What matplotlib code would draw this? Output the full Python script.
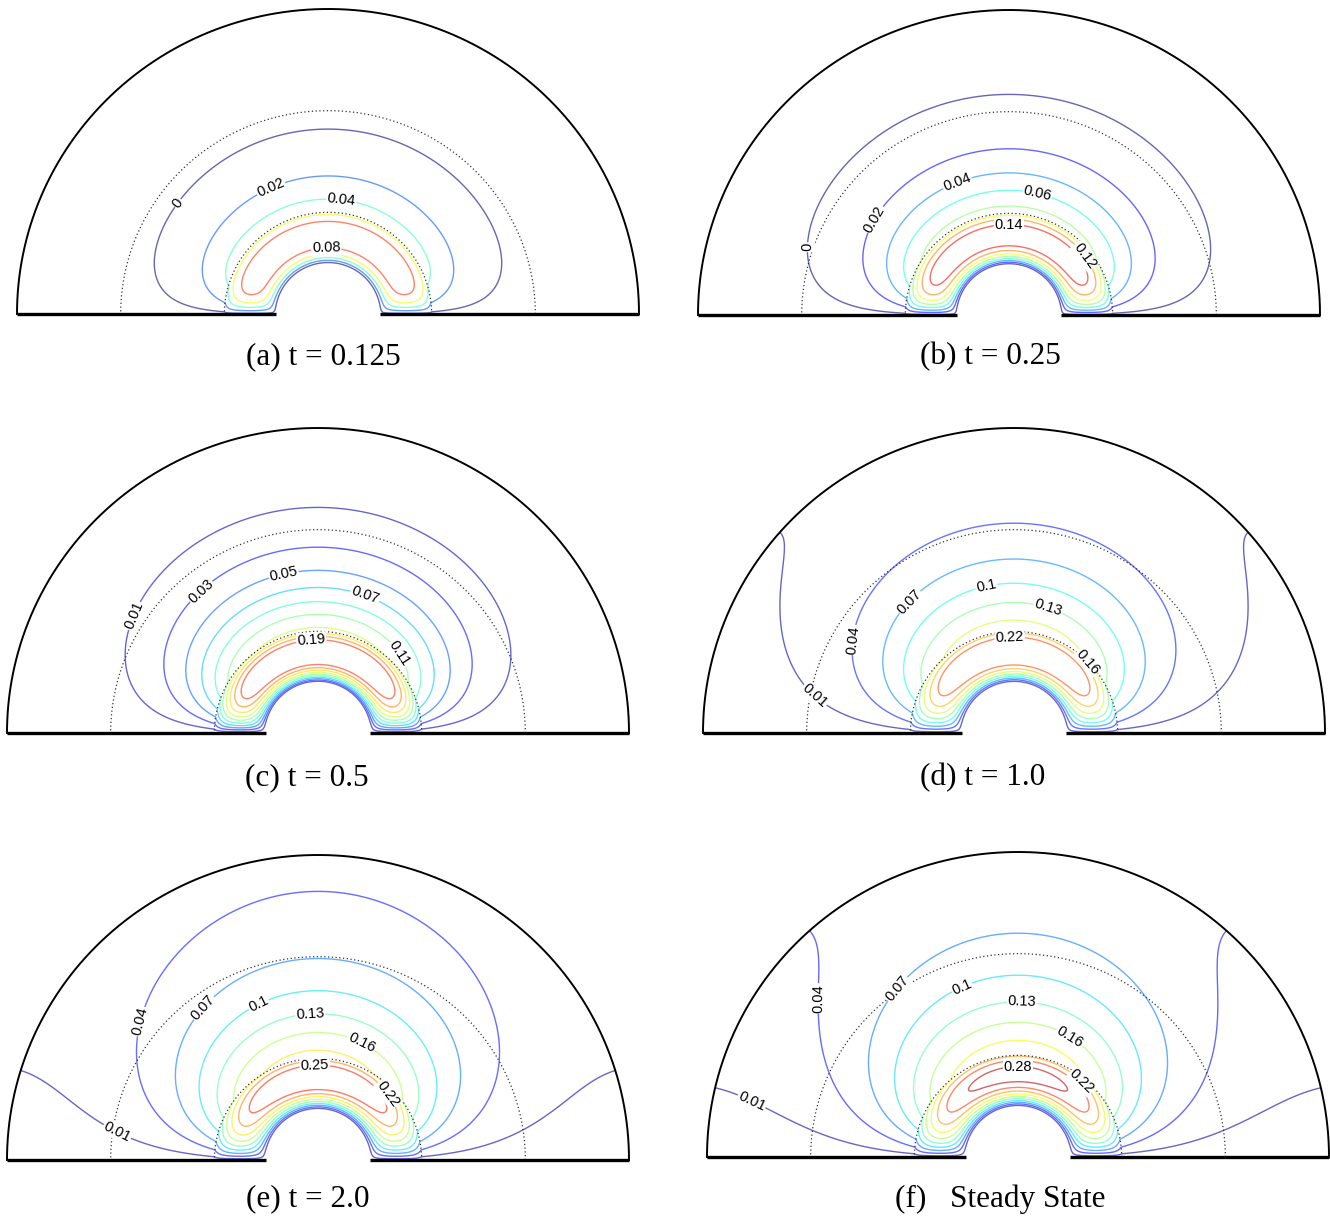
import numpy as np
import matplotlib
matplotlib.use("Agg")
import matplotlib.pyplot as plt
from matplotlib import colormaps
from matplotlib.colors import Normalize
from matplotlib.path import Path

# geometry of the half-annulus (outer radius 1)
R_IN = 1.0 / 6.0
R_SRC = 1.0 / 3.0
R_MID = 2.0 / 3.0

# transport model: u_t = div(D grad u) - k u + Q(r)
DIFF_IN = 0.015
DIFF_OUT = 0.1
SINK = 0.75
SOURCE = 0.9
TAIL = 6          # source falls off as (R_SRC / r)**TAIL outside R_SRC
BASE = 0.006      # background level subtracted before contouring

times = [0.125, 0.25, 0.5, 1.0, 2.0, np.inf]
captions = ["(a) t = 0.125", "(b) t = 0.25", "(c) t = 0.5",
            "(d) t = 1.0", "(e) t = 2.0", "(f)   Steady State"]

levels_a = [0.0, 0.02, 0.04, 0.06, 0.08]
levels_b = [0.0, 0.02, 0.04, 0.06, 0.08, 0.10, 0.12, 0.14]
levels_c = [0.01, 0.03, 0.05, 0.07, 0.09, 0.11, 0.13, 0.15, 0.17, 0.19]
levels_d = [0.01, 0.04, 0.07, 0.10, 0.13, 0.16, 0.19, 0.22]
levels_e = [0.01, 0.04, 0.07, 0.10, 0.13, 0.16, 0.19, 0.22, 0.25]
levels_f = [0.01, 0.04, 0.07, 0.10, 0.13, 0.16, 0.19, 0.22, 0.25, 0.28]

# labelled levels and where their labels sit
tags_a = [0.0, 0.02, 0.04, 0.08]
tags_b = [0.0, 0.02, 0.04, 0.06, 0.14, 0.12]
tags_c = [0.01, 0.03, 0.05, 0.07, 0.11, 0.19]
tags_d = [0.01, 0.04, 0.07, 0.10, 0.13, 0.22, 0.16]
tags_e = [0.01, 0.04, 0.07, 0.10, 0.13, 0.16, 0.25, 0.22]
tags_f = [0.01, 0.04, 0.07, 0.10, 0.13, 0.16, 0.28, 0.22]

spots_a = [(-0.405, 0.309), (-0.158, 0.359), (0.039, 0.332), (-0.006, 0.20)]
spots_b = [(-0.619, 0.22), (-0.391, 0.289), (-0.147, 0.387), (0.08, 0.351),
           (0.0, 0.262), (0.215, 0.174)]
spots_c = [(-0.552, 0.369), (-0.355, 0.441), (-0.11, 0.51), (0.142, 0.428),
           (0.229, 0.239), (-0.019, 0.284)]
spots_d = [(-0.656, 0.108), (-0.502, 0.304), (-0.328, 0.425), (-0.09, 0.477),
           (0.106, 0.402), (-0.013, 0.304), (0.244, 0.239)]
spots_e = [(-0.661, 0.065), (-0.613, 0.466), (-0.381, 0.511), (-0.197, 0.521),
           (-0.026, 0.485), (0.139, 0.384), (-0.01, 0.296), (0.216, 0.212)]
spots_f = [(-0.884, 0.125), (-0.701, 0.521), (-0.402, 0.564), (-0.193, 0.587),
           (0.013, 0.534), (0.183, 0.416), (0.0, 0.292), (0.193, 0.236)]

all_levels = [levels_a, levels_b, levels_c, levels_d, levels_e, levels_f]
all_tags = [tags_a, tags_b, tags_c, tags_d, tags_e, tags_f]
all_spots = [spots_a, spots_b, spots_c, spots_d, spots_e, spots_f]


def solve_field(times, nr=180, n_modes=70, n_theta=361):
    # sine series in theta (u = 0 on the base), finite volumes in r
    r = np.linspace(R_IN, 1.0, nr + 1)
    h = r[1] - r[0]
    ri = r[1:]
    rf = 0.5 * (r[:-1] + r[1:])
    cf = rf * np.where(rf < R_SRC, DIFF_IN, DIFF_OUT) / h
    dn = np.where(ri < R_SRC, DIFF_IN, DIFF_OUT)
    vol = ri * h
    vol[-1] *= 0.5
    src = SOURCE * np.where(ri < R_SRC, 1.0, (R_SRC / ri) ** TAIL)
    theta = np.linspace(0, np.pi, n_theta)
    out = np.zeros((len(times), nr + 1, n_theta))
    sq = np.sqrt(vol)
    for k in range(n_modes):
        n = 2 * k + 1
        diag = -cf.copy()
        diag[:-1] -= cf[1:]
        diag -= vol * (dn * n ** 2 / ri ** 2 + SINK)
        K = np.diag(diag) + np.diag(cf[1:], 1) + np.diag(cf[1:], -1)
        lam, W = np.linalg.eigh(K / np.outer(sq, sq))
        coef = W.T @ (sq * src * 4.0 / (np.pi * n))
        sn = np.sin(n * theta)
        for ti, t in enumerate(times):
            if np.isinf(t):
                phi = -1.0 / lam
            else:
                phi = (np.exp(lam * t) - 1.0) / lam
            u = (W @ (phi * coef)) / sq
            out[ti, 1:, :] += np.outer(u, sn)
    X = np.outer(r, np.cos(theta))
    Y = np.outer(r, np.sin(theta))
    return X, Y, out


def put_label(ax, cs, levels, tag, spot):
    # write the level value on its contour, near spot, along the line
    path = cs.get_paths()[levels.index(tag)]
    v = path.vertices
    if len(v) == 0:
        return
    j = int(np.argmin(np.hypot(v[:, 0] - spot[0], v[:, 1] - spot[1])))
    s, e = 0, len(v)
    if path.codes is not None:
        starts = np.flatnonzero(path.codes == Path.MOVETO)
        s = starts[starts <= j].max()
        later = starts[starts > j]
        e = later.min() if len(later) else len(v)
    lo, hi = max(j - 3, s), min(j + 3, e - 1)
    dx, dy = v[hi] - v[lo]
    ang = np.degrees(np.arctan2(dy * RY, dx * RX))
    if ang > 90:
        ang -= 180
    elif ang < -90:
        ang += 180
    ax.text(v[j, 0], v[j, 1], f"{tag:g}", rotation=ang, rotation_mode="anchor",
            ha="center", va="center", fontsize=10.5, zorder=5,
            bbox=dict(fc="white", ec="none", pad=0.6))


X, Y, fields = solve_field(times)

W_PX, H_PX = 1330, 1219
fig = plt.figure(figsize=(W_PX / 100, H_PX / 100), dpi=100)
plt.rcParams["font.family"] = "Liberation Sans"

# panel centre x and base line y (px), radii (px)
panels = [(328, 314), (1009, 315), (318, 733), (1014, 733), (318, 1160), (1018, 1157)]
caption_xy = [(323, 357), (990, 357), (307, 778), (983, 778), (308, 1199), (1000, 1199)]
RX, RY = 311, 305

jet = colormaps["jet"]
th = np.linspace(0, np.pi, 500)
for i in range(6):
    cx, by = panels[i]
    ax = fig.add_axes([(cx - RX) / W_PX, (H_PX - by) / H_PX, 2 * RX / W_PX, RY / H_PX])
    ax.set_xlim(-1, 1)
    ax.set_ylim(0, 1)
    ax.axis("off")

    U = fields[i] - BASE
    lev = all_levels[i]
    norm = Normalize(0.0, U.max())
    cols = [tuple(1 - 0.6 * (1 - np.array(jet(norm(v))[:3]))) for v in lev]
    cs = ax.contour(X, Y, U, levels=lev, colors=cols, linewidths=1.0)
    for tag, spot in zip(all_tags[i], all_spots[i]):
        put_label(ax, cs, lev, tag, spot)

    for rr in (R_SRC, R_MID):
        ax.plot(rr * np.cos(th), rr * np.sin(th), color="0.2", lw=0.9,
                ls=(0, (1, 2)), clip_on=False)
    ax.plot(np.cos(th), np.sin(th), color="k", lw=1.4, clip_on=False)
    ax.plot([-1, -R_IN], [0, 0], color="k", lw=2.4, clip_on=False, solid_capstyle="butt")
    ax.plot([R_IN, 1], [0, 0], color="k", lw=2.4, clip_on=False, solid_capstyle="butt")

    tx, ty = caption_xy[i]
    fig.text(tx / W_PX, 1 - ty / H_PX, captions[i], ha="center", va="center",
             fontsize=22.5, fontfamily="Liberation Serif")

fig.savefig("out.png", dpi=100)
